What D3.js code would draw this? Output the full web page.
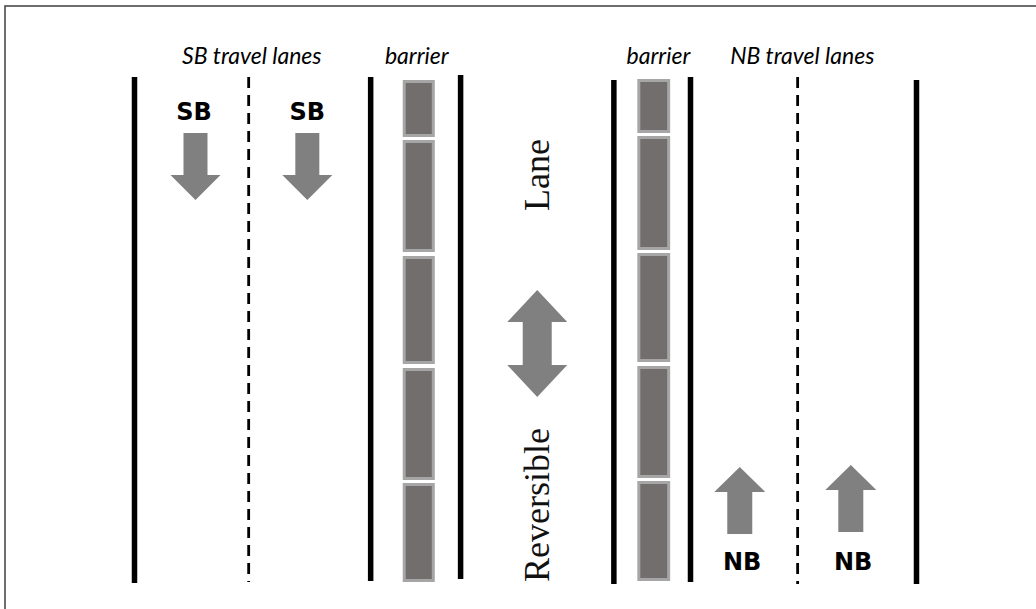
<!DOCTYPE html>
<html><head><meta charset="utf-8">
<script src="https://cdn.jsdelivr.net/npm/d3@7"></script>
<style>html,body{margin:0;padding:0;background:#fff;overflow:hidden}</style>
</head><body>
<svg id="chart" width="1036" height="609"></svg>
<script>
// Diagram values in roadway units (x: 0..100 across, y: 0..100 along)
const solidLines = [
  {x: 0,    y0: -0.6, y1: 100.6},
  {x: 30.2, y0: -0.6, y1: 100.2},
  {x: 41.7, y0: -1.0, y1: 99.8},
  {x: 61.3, y0: 0.0,  y1: 100.8},
  {x: 71.1, y0: -0.6, y1: 100.4},
  {x: 100,  y0: 0.0,  y1: 100.8}
];
const dashedLines = [
  {x: 14.6, y0: -0.6, y1: 100.4},
  {x: 84.8, y0: -0.6, y1: 100.8}
];
const barrierColumns = [
  {x0: 34.3, x1: 38.4},
  {x0: 64.3, x1: 68.5}
];
const barrierBlocks = [
  [[0, 11.4], [12, 34.4], [35.2, 56.8], [57.6, 80], [80.6, 100.4]],
  [[-0.2, 10.6], [11.2, 34], [34.6, 56.4], [57.2, 79.6], [80.2, 100.2]]
];
const sbArrows = [{x: 7.8, tail: 10.6, tip: 24}, {x: 22.1, tail: 10.6, tip: 24}];
const nbArrows = [{x: 77.4, tail: 90.8, tip: 77.4}, {x: 91.6, tail: 90.4, tip: 77.0}];
const reversibleArrow = {x: 51.5, top: 42, bottom: 63.4};
const sbLabels = [{text: "SB", x: 7.6, y: 8}, {text: "SB", x: 22.1, y: 8}];
const nbLabels = [{text: "NB", x: 77.7, y: 98}, {text: "NB", x: 91.9, y: 98}];
const headerLabels = [
  {text: "SB travel lanes", x: 15.0},
  {text: "barrier", x: 36.1},
  {text: "barrier", x: 67.0},
  {text: "NB travel lanes", x: 85.4}
];
const headerY = -3.3;
const reversibleWords = [{text: "Lane", y: 19}, {text: "Reversible", y: 85}];
const reversibleTextX = 53;

const svg = d3.select("#chart");
const x = d3.scaleLinear().domain([0, 100]).range([134.5, 916.5]);
const y = d3.scaleLinear().domain([0, 100]).range([80, 580]);

// frame
svg.append("rect").attr("x", 5).attr("y", 6).attr("width", 1050).attr("height", 620)
  .attr("fill", "#fff").attr("stroke", "#4a4a4a").attr("stroke-width", 1.6);

// solid lines
svg.selectAll("line.solid").data(solidLines).join("line").attr("class", "solid")
  .attr("x1", d => x(d.x)).attr("x2", d => x(d.x))
  .attr("y1", d => y(d.y0)).attr("y2", d => y(d.y1))
  .attr("stroke", "#000").attr("stroke-width", 5.5);

// dashed lines
svg.selectAll("line.dash").data(dashedLines).join("line").attr("class", "dash")
  .attr("x1", d => x(d.x)).attr("x2", d => x(d.x))
  .attr("y1", d => y(d.y0)).attr("y2", d => y(d.y1))
  .attr("stroke", "#000").attr("stroke-width", 2.8).attr("stroke-dasharray", "11,7");

// barriers
barrierColumns.forEach((col, i) => {
  svg.append("g").selectAll("rect").data(barrierBlocks[i]).join("rect")
    .attr("x", x(col.x0) + 1.5).attr("width", x(col.x1) - x(col.x0) - 3)
    .attr("y", d => y(d[0]) + 1.5).attr("height", d => y(d[1]) - y(d[0]) - 3)
    .attr("fill", "#716e6d").attr("stroke", "#a6a6a6").attr("stroke-width", 3);
});

// arrows
const arrowColor = "#808080";
function singleArrow(cx, tail, tip, sw, hw, hl) {
  const dir = tip > tail ? 1 : -1;
  const base = tip - dir * hl;
  return [[cx - sw, tail], [cx + sw, tail], [cx + sw, base], [cx + hw, base],
          [cx, tip], [cx - hw, base], [cx - sw, base]];
}
svg.selectAll("polygon.sb").data(sbArrows).join("polygon").attr("class", "sb")
  .attr("points", d => singleArrow(x(d.x), y(d.tail), y(d.tip), 12, 25, 25).join(" "))
  .attr("fill", arrowColor);
svg.selectAll("polygon.nb").data(nbArrows).join("polygon").attr("class", "nb")
  .attr("points", d => singleArrow(x(d.x), y(d.tail), y(d.tip), 12.5, 25.5, 25).join(" "))
  .attr("fill", arrowColor);
(function () {
  const cx = x(reversibleArrow.x), t = y(reversibleArrow.top), b = y(reversibleArrow.bottom);
  const sw = 14.5, hw = 30, hl = 32;
  const pts = [[cx, t], [cx + hw, t + hl], [cx + sw, t + hl], [cx + sw, b - hl], [cx + hw, b - hl],
               [cx, b], [cx - hw, b - hl], [cx - sw, b - hl], [cx - sw, t + hl], [cx - hw, t + hl]];
  svg.append("polygon").attr("points", pts.join(" ")).attr("fill", arrowColor);
})();

// SB / NB labels
svg.selectAll("text.dir").data(sbLabels.concat(nbLabels)).join("text").attr("class", "dir")
  .attr("x", d => x(d.x)).attr("y", d => y(d.y))
  .attr("text-anchor", "middle")
  .style("font-family", "'DejaVu Sans', sans-serif").style("font-weight", "bold").style("font-size", "24px")
  .attr("fill", "#000").text(d => d.text);

// header labels
svg.selectAll("text.hdr").data(headerLabels).join("text").attr("class", "hdr")
  .attr("x", d => x(d.x)).attr("y", y(headerY))
  .attr("text-anchor", "middle")
  .style("font-family", "Lato, sans-serif").style("font-style", "italic").style("font-size", "23px")
  .attr("fill", "#000").text(d => d.text);

// rotated Reversible Lane text
svg.selectAll("text.rev").data(reversibleWords).join("text").attr("class", "rev")
  .attr("transform", d => `translate(${x(reversibleTextX)},${y(d.y)}) rotate(-90)`)
  .attr("text-anchor", "middle")
  .style("font-family", "'Liberation Serif', serif").style("font-size", "36px")
  .attr("fill", "#111").text(d => d.text);
</script>
</body></html>
